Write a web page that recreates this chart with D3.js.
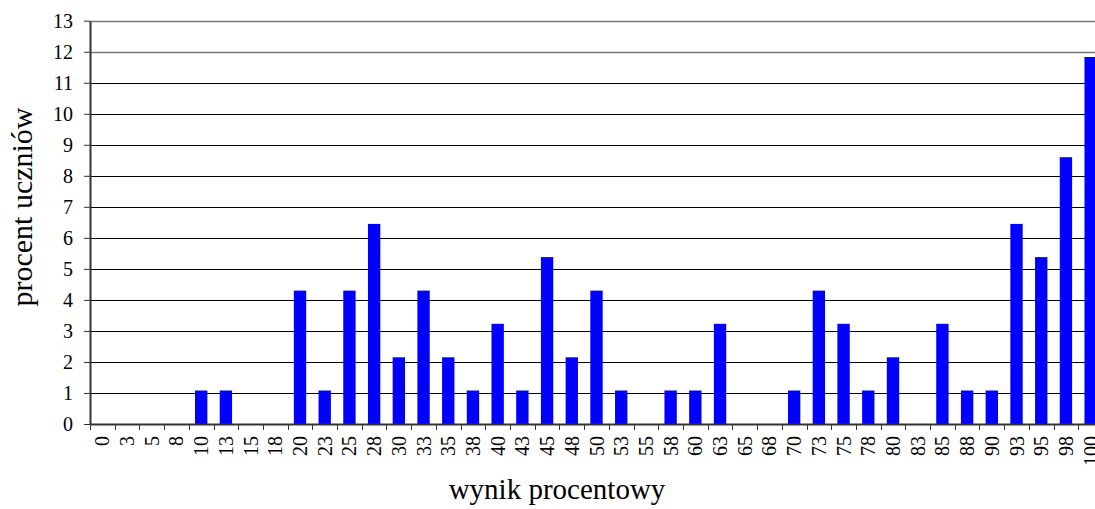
<!DOCTYPE html>
<html><head><meta charset="utf-8">
<script src="https://cdn.jsdelivr.net/npm/d3@7"></script>
<style>html,body{margin:0;padding:0;background:#fff;overflow:hidden}</style>
</head><body>
<svg id="c" width="1095" height="509"></svg>
<script>
const categories = ["0","3","5","8","10","13","15","18","20","23","25","28","30","33","35","38","40","43","45","48","50","53","55","58","60","63","65","68","70","73","75","78","80","83","85","88","90","93","95","98","100"];
const values = [0,0,0,0,1.08,1.08,0,0,4.30,1.08,4.30,6.45,2.15,4.30,2.15,1.08,3.23,1.08,5.38,2.15,4.30,1.08,0,1.08,1.08,3.23,0,0,1.08,4.30,3.23,1.08,2.15,0,3.23,1.08,1.08,6.45,5.38,8.60,11.83];
const yTicks = [0,1,2,3,4,5,6,7,8,9,10,11,12,13];
const xTitle = "wynik procentowy";
const yTitle = "procent uczniów";

const svg = d3.select("#c");
const pLeft = 90, pRight = 1103, pTop = 20.7, pBottom = 424;
const font = "Liberation Serif, Times New Roman, serif";

const x = d3.scaleBand().domain(categories).range([pLeft, pRight]).padding(0);
const y = d3.scaleLinear().domain([0, 13]).range([pBottom, pTop]);

// gridlines
svg.append("g").selectAll("line").data(yTicks.filter(d => d > 0)).join("line")
  .attr("x1", pLeft).attr("x2", pRight)
  .attr("y1", d => Math.round(y(d)) + 0.5).attr("y2", d => Math.round(y(d)) + 0.5)
  .attr("stroke", d => d >= 12 ? "#777" : "#000").attr("stroke-width", d => d >= 12 ? 1.5 : 1);

// bars
const bw = x.bandwidth() * 0.5;
svg.append("g").selectAll("rect").data(values).join("rect")
  .attr("x", (d, i) => x(categories[i]) + (x.bandwidth() - bw) / 2)
  .attr("width", bw)
  .attr("y", d => y(d))
  .attr("height", d => pBottom - y(d))
  .attr("fill", "#0000ff");

// y axis
const ya = svg.append("g").attr("transform", `translate(${pLeft},0)`)
  .call(d3.axisLeft(y).tickValues(yTicks).tickSize(6).tickSizeOuter(0).tickPadding(11));
ya.attr("font-family", font).attr("font-size", 20);
ya.select(".domain").attr("stroke", "#333").attr("stroke-width", 2);
ya.selectAll(".tick line").attr("stroke", "#333");
ya.selectAll("text").style("font-family", font).style("font-size", "20px").attr("fill", "#000");

// x axis
const xa = svg.append("g").attr("transform", `translate(0,${pBottom})`)
  .call(d3.axisBottom(x).tickSize(0).tickSizeOuter(0));
xa.attr("font-family", font).attr("font-size", 20);
xa.select(".domain").attr("stroke", "#333").attr("stroke-width", 2);
xa.selectAll(".tick text")
  .style("font-family", font).style("font-size", "20px").attr("fill", "#000")
  .attr("transform", "rotate(-90)")
  .attr("text-anchor", "end")
  .attr("x", -12).attr("y", 0).attr("dy", "0.35em");
// boundary ticks
const bounds = categories.map(c => x(c)).concat([pRight]);
svg.append("g").selectAll("line").data(bounds).join("line")
  .attr("x1", d => Math.round(d) + 0.5).attr("x2", d => Math.round(d) + 0.5)
  .attr("y1", pBottom).attr("y2", pBottom + 6).attr("stroke", "#333");

// titles
svg.append("text").attr("x", 557).attr("y", 499)
  .attr("text-anchor", "middle").style("font-family", font).style("font-size", "29px").text(xTitle);
svg.append("text").attr("transform", `translate(32,207) rotate(-90)`)
  .attr("text-anchor", "middle").style("font-family", font).style("font-size", "30px").text(yTitle);
</script>
</body></html>
